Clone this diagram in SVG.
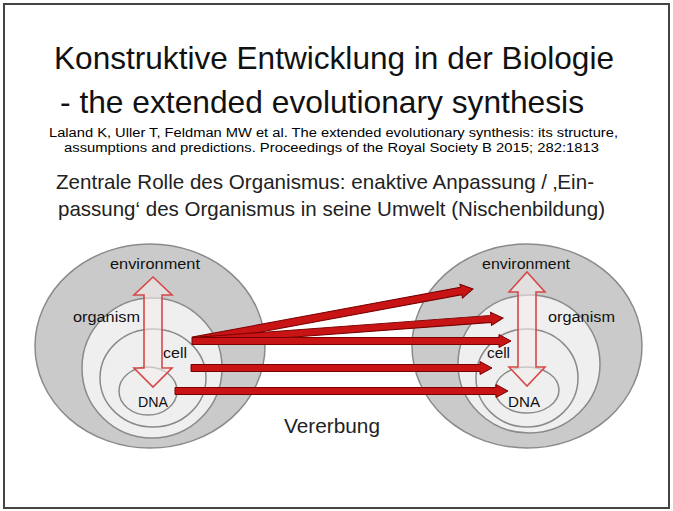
<svg xmlns="http://www.w3.org/2000/svg" width="673" height="511" viewBox="0 0 673 511">
<style>
text{font-family:"Liberation Sans",Arial,sans-serif;fill:#111}
.title{font-size:31.5px}
.cite{font-size:12.5px;fill:#000}
.sub{font-size:21px;fill:#222}
.lbl{font-size:14px;fill:#111}
.outer{fill:#cacaca;stroke:#8a8a8a;stroke-width:1.5}
.inner{fill:#efefef;stroke:#8a8a8a;stroke-width:1.5}
.dbl{fill:#f4ecec;fill-opacity:0.6;stroke:#d64848;stroke-width:1.6}
.red{fill:#c81414;stroke:#7a0000;stroke-width:1}
</style>
<rect x="4" y="4" width="665" height="504" fill="#fff" stroke="#444" stroke-width="2"/>
<g id="title">
<text class="title" x="54" y="69" textLength="560" lengthAdjust="spacingAndGlyphs">Konstruktive Entwicklung in der Biologie</text>
<text class="title" x="60" y="113" textLength="524" lengthAdjust="spacingAndGlyphs">- the extended evolutionary synthesis</text>
</g>
<g id="citation">
<text class="cite" x="49" y="137" textLength="569" lengthAdjust="spacingAndGlyphs">Laland K, Uller T, Feldman MW et al. The extended evolutionary synthesis: its structure,</text>
<text class="cite" x="64" y="152" textLength="535" lengthAdjust="spacingAndGlyphs">assumptions and predictions. Proceedings of the Royal Society B 2015; 282:1813</text>
</g>
<g id="subtitle">
<text class="sub" x="56" y="189" textLength="538" lengthAdjust="spacingAndGlyphs">Zentrale Rolle des Organismus: enaktive Anpassung / ‚Ein-</text>
<text class="sub" x="58" y="216" textLength="547" lengthAdjust="spacingAndGlyphs">passung‘ des Organismus in seine Umwelt (Nischenbildung)</text>
</g>
<g id="left-system">
<ellipse class="outer" cx="150" cy="346" rx="115" ry="102"/>
<ellipse class="inner" cx="152" cy="368" rx="70" ry="70"/>
<ellipse class="inner" cx="153" cy="378" rx="53" ry="49"/>
<ellipse class="inner" cx="148" cy="391" rx="29" ry="24"/>
<path class="dbl" d="M153,277 L172,295 L162,295 L162,368 L172,368 L153,387 L134,368 L144,368 L144,295 L134,295 Z"/>
<text class="lbl" x="110" y="269" textLength="90" lengthAdjust="spacingAndGlyphs">environment</text>
<text class="lbl" x="73" y="322" textLength="67" lengthAdjust="spacingAndGlyphs">organism</text>
<text class="lbl" x="163" y="358" textLength="24" lengthAdjust="spacingAndGlyphs">cell</text>
<text class="lbl" x="138" y="407" textLength="30" lengthAdjust="spacingAndGlyphs">DNA</text>
</g>
<g id="right-system">
<ellipse class="outer" cx="527" cy="346" rx="115" ry="102"/>
<ellipse class="inner" cx="529" cy="364" rx="71" ry="69"/>
<ellipse class="inner" cx="527" cy="378" rx="51" ry="49"/>
<ellipse class="inner" cx="527" cy="390" rx="32" ry="23"/>
</g>
<g id="connectors">
<g transform="translate(193,341) rotate(-10.52)"><path class="red" d="M0,-4 H272.8 V-7 L284.8,0 L272.8,7 V3.5 H0 Z"/></g>
<g transform="translate(193,341) rotate(-4.24)"><path class="red" d="M0,-3.5 H298.9 V-6.5 L310.9,0 L298.9,6.5 V3.5 H0 Z"/></g>
<path class="red" d="M192,337.5 H499 V334.5 L511,341 L499,347.5 V344.5 H192 Z"/>
<path class="red" d="M191,364.5 H480 V361.5 L492,368 L480,374.5 V371.5 H191 Z"/>
<path class="red" d="M175,387.5 H496 V384.5 L508,391 L496,397.5 V394.5 H175 Z"/>
</g>
<g id="right-labels">
<path class="dbl" d="M527,272 L545,292 L536,292 L536,367 L545,367 L527,386 L509,367 L518,367 L518,292 L509,292 Z"/>
<text class="lbl" x="482" y="269" textLength="88" lengthAdjust="spacingAndGlyphs">environment</text>
<text class="lbl" x="548" y="322" textLength="67" lengthAdjust="spacingAndGlyphs">organism</text>
<text class="lbl" x="487" y="358" textLength="23" lengthAdjust="spacingAndGlyphs">cell</text>
<text class="lbl" x="508" y="407" textLength="32" lengthAdjust="spacingAndGlyphs">DNA</text>
</g>
<g id="vererbung">
<text x="284" y="433" textLength="96" lengthAdjust="spacingAndGlyphs" style="font-size:20.5px;fill:#222">Vererbung</text>
</g>
</svg>
